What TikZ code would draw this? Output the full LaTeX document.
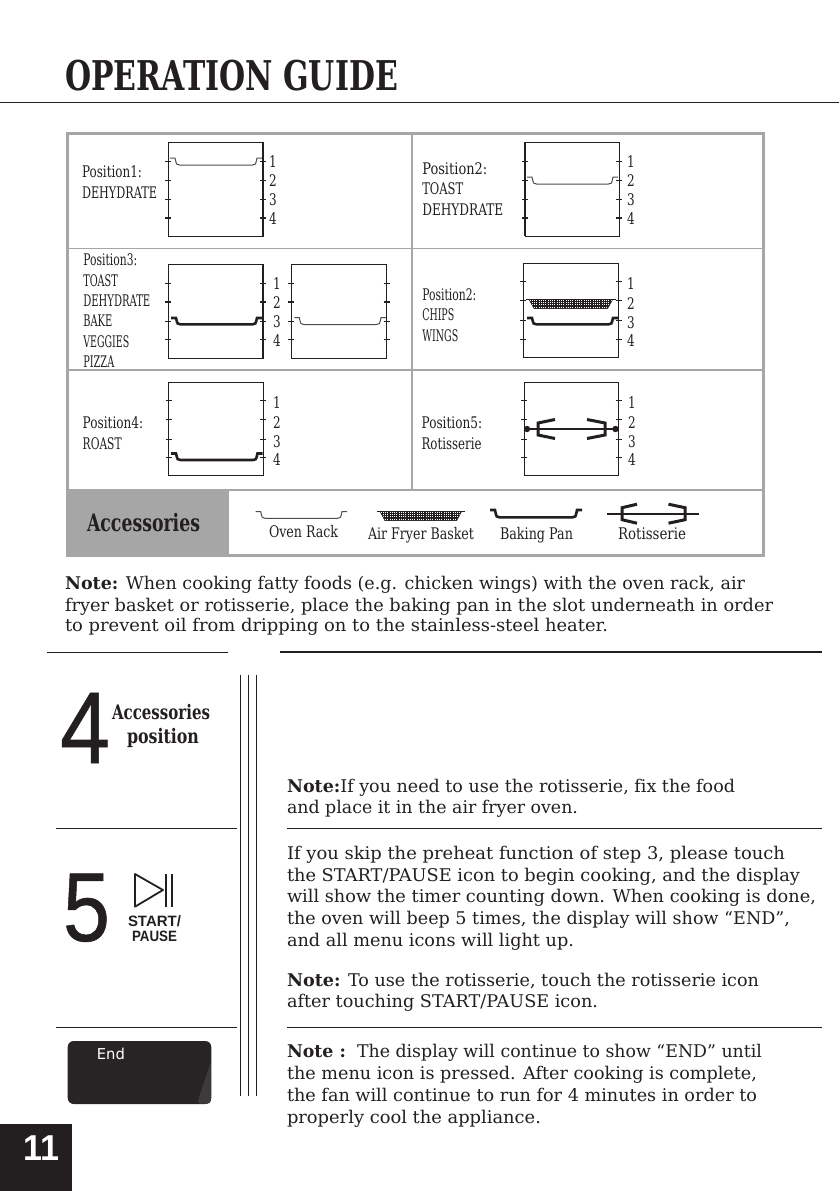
\documentclass[tikz,border=0pt]{standalone}
\usepackage{fontspec}
\usepackage{graphicx}
\setmainfont[Ligatures={NoCommon}]{DejaVu Serif}
\newfontfamily\sansf{Liberation Sans}
\newfontfamily\sansm[FakeBold=0.6]{Liberation Sans}
\newfontfamily\monof{DejaVu Sans}
\definecolor{ink}{HTML}{231F20}
\definecolor{frameg}{HTML}{A6A6A6}
\newsavebox\fwbox
\newcommand\fw[2]{\sbox\fwbox{#2}\pgfmathsetmacro\rr{#1/\the\wd\fwbox}\scalebox{\rr}[1]{\usebox\fwbox}}
\newcounter{txt}
% x, baseline y, width, font, text
\newcommand\TT[5]{\stepcounter{txt}\node[txtnode,font=#4] (t\thetxt) at (#1,#2) {\fw{#3}{#5}};}
\newcommand\bodyf{\fontsize{17.5}{20}\selectfont}
\newcommand\labf{\fontsize{16}{18}\selectfont}
\newcommand\labb{\fontsize{20}{22}\selectfont\bfseries}
% tray: x1,x2,ytop,ybot,style
\newcommand\tray[5]{\draw[#5] (#1,#3) -- ++(5,0) .. controls +(1.5,#4-#3) .. ++(4.5,#4-#3) -- ({#2-9.5},#4) .. controls +(3,0) .. ({#2-5},#3) -- (#2,#3);}
% oven box: x1,x2,y1,y2,t1,t2,t3,t4
\newcommand\ovenbox[8]{\draw[boxline] (#1,#3) rectangle (#2,#4);
 \foreach \yy in {#5,#6,#7,#8}{\draw[tick] ({#1-3},\yy) -- ({#1+3},\yy); \draw[tick] ({#2-3},\yy) -- ({#2+3},\yy);}}
\newcommand\thicktick[3]{\draw[thicktk] ({#1-3},#3) -- ({#1+3},#3); \draw[thicktk] ({#2-3},#3) -- ({#2+3},#3);}
% basket: x1,x2,ytop,ybot
\newcommand\basket[4]{\begin{scope}
 \clip ({#1+3},#3) -- ({#2-3},#3) -- ({#2-8},#4) -- ({#1+8},#4) -- cycle;
 \foreach \i in {0,1.8,...,100}{\draw[hatch] ({#1+\i},#3) -- ({#1+\i},#4);}
 \foreach \i in {0,1.8,...,12}{\draw[hatch] (#1,{#3+\i}) -- (#2,{#3+\i});}
 \end{scope}
 \draw[boxline] (#1,#3) -- (#2,#3);
 \draw[hatch] ({#1+3},#3) -- ({#1+8},#4) -- ({#2-8},#4) -- ({#2-3},#3);}
% rotisserie: x1,x2,ymid,l-bend,l-tip,r-tip,r-bend,halfin,halfout
\newcommand\rotis[9]{\draw[spit] (#1,#3) -- (#2,#3);
 \draw[fork] (#5,{#3-#9}) -- (#4,{#3-#8}) -- (#4,{#3+#8}) -- (#5,{#3+#9});
 \draw[fork] (#6,{#3-#9}) -- (#7,{#3-#8}) -- (#7,{#3+#8}) -- (#6,{#3+#9});}
\tikzset{
 txtnode/.style={anchor=base west,inner sep=0pt,outer sep=0pt,text=ink},
 numnode/.style={anchor=base,inner sep=0pt,text=ink,font=\labf},
 boxline/.style={draw=ink,line width=0.9pt},
 sideline/.style={draw=ink,line width=1.7pt},
 tick/.style={draw=ink,line width=0.8pt},
 thicktk/.style={draw=ink,line width=1.6pt},
 rack/.style={draw=ink!80,line width=1pt},
 pan/.style={draw=ink,line width=2.6pt},
 hatch/.style={draw=ink,line width=0.5pt},
 spit/.style={draw=ink,line width=2.2pt},
 fork/.style={draw=ink,line width=3pt},
 cell/.style={draw=frameg,line width=1.6pt},
 divl/.style={draw=frameg,line width=2.2pt},
 framel/.style={draw=frameg,line width=3pt},
 rulel/.style={draw=ink,line width=0.9pt},
 rulem/.style={draw=ink,line width=1.6pt},
}
\begin{document}
\begin{tikzpicture}[x=1pt,y=-1pt]
\useasboundingbox (0,0) rectangle (839,1191);
\fill[white] (0,0) rectangle (839,1191);
% title
\TT{65}{90}{333}{\fontsize{41}{46}\selectfont\bfseries}{OPERATION GUIDE}
\draw[rulel] (0,102) -- (839,102);
% table
\fill[frameg] (67,490) rectangle (229,555);
\draw[cell] (67,248.5) -- (412,248.5) (412,248.5) -- (763,248.5);
\draw[divl] (67,370) -- (763,370);
\draw[divl] (67,490) -- (763,490);
\draw[cell] (412,133) -- (412,490);
\draw[framel] (67,133) rectangle (763,555);
% box 1
\ovenbox{168.3}{263}{142.3}{236.3}{161}{180}{199}{218}
\thicktick{168.3}{263}{218}
\draw[sideline] (263,142.3) -- (263,236.3);
\tray{170}{262}{158}{165}{rack}
% box 2
\ovenbox{525}{619.3}{142.3}{236.3}{161}{180}{199}{218}
\thicktick{525}{619.3}{218}
\draw[sideline] (525,142.3) -- (525,236.3);
\tray{527}{618}{177}{184}{rack}
% box 3
\ovenbox{168.3}{263}{264.3}{358.3}{283.3}{302}{321.7}{339}
\thicktick{168.3}{263}{302}
\draw[sideline] (263,264.3) -- (263,358.3);
\tray{171}{262}{318}{324.3}{pan}
% box 3b
\ovenbox{291.3}{386.7}{264.3}{358.3}{283.3}{302}{321.7}{339}
\thicktick{291.3}{386.7}{302}
\tray{294.3}{386}{317.5}{324.5}{rack}
% box 4
\ovenbox{523.3}{618.7}{263.3}{357.3}{281.7}{300.7}{320.7}{339}
\basket{526}{615.7}{299.5}{308.5}
\tray{527}{618}{318}{324.3}{pan}
% box 5
\ovenbox{168.7}{263.4}{382.3}{475.3}{400}{419.3}{439.3}{457.3}
\draw[sideline] (263.4,382.3) -- (263.4,475.3);
\tray{171}{262.5}{453.5}{460}{pan}
% box 6
\ovenbox{524}{618.7}{382.3}{475.3}{400}{419.3}{439.3}{457.3}
\rotis{527}{615.5}{429}{538}{555}{587}{605}{6}{9.5}
\fill[ink] (527,429) circle (3.2pt) (615.5,429) circle (3.2pt);
% accessories icons
\tray{255.7}{347}{511.7}{518.3}{rack}
\basket{377}{464.6}{511.5}{520.7}
\tray{490}{582}{510}{517.3}{pan}
\rotis{607}{699}{513.7}{622}{637}{668.5}{685}{6}{9.5}
% numbers
\foreach \xx/\yy [count=\n] in {273/167,273/186,273/205,273/224,
 631/167,631/186,631/205,631/224}{
 \pgfmathtruncatemacro\lab{mod(\n-1,4)+1}
 \node[numnode] (na\n) at (\xx,\yy) {\scalebox{.75}[1]{\lab}};}
\foreach \xx/\yy [count=\n] in {277/289,277/308,277/327,277/346,
 631/289,631/309,631/328,631/346,
 277/408,277/428,277/447,277/465,
 632/408,632/428,632/447,632/465}{
 \pgfmathtruncatemacro\lab{mod(\n-1,4)+1}
 \node[numnode] (nb\n) at (\xx,\yy) {\scalebox{.75}[1]{\lab}};}
% cell labels
\TT{82}{177.7}{60}{\labf}{Position1:}
\TT{82}{198.3}{75}{\labf}{DEHYDRATE}
\TT{422.3}{174.3}{65}{\labf}{Position2:}
\TT{422.3}{194.3}{41}{\labf}{TOAST}
\TT{422.3}{215}{81}{\labf}{DEHYDRATE}
\TT{83.3}{265.7}{54}{\labf}{Position3:}
\TT{83.3}{286.3}{34.5}{\labf}{TOAST}
\TT{83.3}{306.7}{67}{\labf}{DEHYDRATE}
\TT{83.3}{326.7}{29}{\labf}{BAKE}
\TT{83.3}{347.3}{46}{\labf}{VEGGIES}
\TT{83.3}{367.7}{31}{\labf}{PIZZA}
\TT{422.3}{300}{54}{\labf}{Position2:}
\TT{422.3}{320.7}{32}{\labf}{CHIPS}
\TT{422.3}{341}{36}{\labf}{WINGS}
\TT{82.7}{428.3}{60.5}{\labf}{Position4:}
\TT{82.7}{449}{39}{\labf}{ROAST}
\TT{421.6}{428.3}{60.5}{\labf}{Position5:}
\TT{421.6}{449}{60}{\labf}{Rotisserie}
\TT{87}{531}{113}{\fontsize{24}{26}\selectfont\bfseries}{Accessories}
\TT{269}{537}{69}{\labf}{Oven Rack}
\TT{368}{539}{106}{\labf}{Air Fryer Basket}
\TT{500}{539}{73}{\labf}{Baking Pan}
\TT{618}{539}{68}{\labf}{Rotisserie}
% note
\TT{65}{589}{680}{\bodyf}{\textbf{Note:} When cooking fatty foods (e.g. chicken wings) with the oven rack, air}
\TT{65}{611}{708}{\bodyf}{fryer basket or rotisserie, place the baking pan in the slot underneath in order}
\TT{65}{631}{543}{\bodyf}{to prevent oil from dripping on to the stainless-steel heater.}
% rules
\draw[rulel] (47,652) -- (228,652);
\draw[rulem] (280,652) -- (822,652);
\draw[rulel] (240,675) -- (240,1096);
\draw[rulel] (248.3,675) -- (248.3,1096);
\draw[rulel] (256.3,675) -- (256.3,1096);
\draw[rulel] (56,828) -- (237,828);
\draw[rulel] (287,828) -- (822,828);
\draw[rulel] (56,1027) -- (237,1027);
\draw[rulel] (287,1027) -- (822,1027);
% step 4
\TT{60}{763}{50}{\sansm\fontsize{102}{104}\selectfont}{4}
\TT{112}{719}{98}{\labb}{Accessories}
\TT{127}{743}{72}{\labb}{position}
% step 5
\TT{63}{941}{47}{\sansm\fontsize{98}{100}\selectfont}{5}
\draw[ink,line width=1.8pt,line join=round] (135,874) -- (135,906.7) -- (163,890) -- cycle;
\draw[ink,line width=1.8pt] (165.7,874) -- (165.7,907) (171.7,874) -- (171.7,907);
\TT{128}{926.7}{53}{\sansf\fontsize{15}{16}\selectfont\bfseries}{START/}
\TT{132}{941.7}{45}{\sansf\fontsize{15}{16}\selectfont\bfseries}{PAUSE}
% display
\fill[ink!95!gray,rounded corners=6pt] (67.7,1041) rectangle (211.3,1104);
\fill[white!12!ink,rounded corners=3pt] (210.8,1062) -- (210.8,1103.5) -- (197,1103.5) -- cycle;
\stepcounter{txt}\node[anchor=base west,inner sep=0pt,text=white,font=\monof\fontsize{15}{16}\selectfont] (t\thetxt) at (96.7,1059) {\fw{28}{End}};
% page number
\fill[ink] (0,1124) rectangle (72,1191);
\stepcounter{txt}\node[anchor=base west,inner sep=0pt,text=white,font=\sansf\fontsize{36}{38}\selectfont\bfseries] (t\thetxt) at (23,1160) {\fw{36}{11}};
% right column
\TT{287}{792}{448}{\bodyf}{\textbf{Note:}If you need to use the rotisserie, fix the food}
\TT{287}{813}{291}{\bodyf}{and place it in the air fryer oven.}
\TT{287}{859}{498}{\bodyf}{If you skip the preheat function of step 3, please touch}
\TT{287}{881}{513}{\bodyf}{the START/PAUSE icon to begin cooking, and the display}
\TT{287}{902}{529}{\bodyf}{will show the timer counting down. When cooking is done,}
\TT{287}{924}{503}{\bodyf}{the oven will beep 5 times, the display will show “END”,}
\TT{287}{946}{287}{\bodyf}{and all menu icons will light up.}
\TT{287}{986}{472}{\bodyf}{\textbf{Note:} To use the rotisserie, touch the rotisserie icon}
\TT{287}{1007}{311}{\bodyf}{after touching START/PAUSE icon.}
\TT{287}{1057}{475}{\bodyf}{\textbf{Note :}\ \ The display will continue to show “END” until}
\TT{287}{1079}{470}{\bodyf}{the menu icon is pressed. After cooking is complete,}
\TT{287}{1101}{470}{\bodyf}{the fan will continue to run for 4 minutes in order to}
\TT{287}{1123}{254}{\bodyf}{properly cool the appliance.}
\end{tikzpicture}
\end{document}
